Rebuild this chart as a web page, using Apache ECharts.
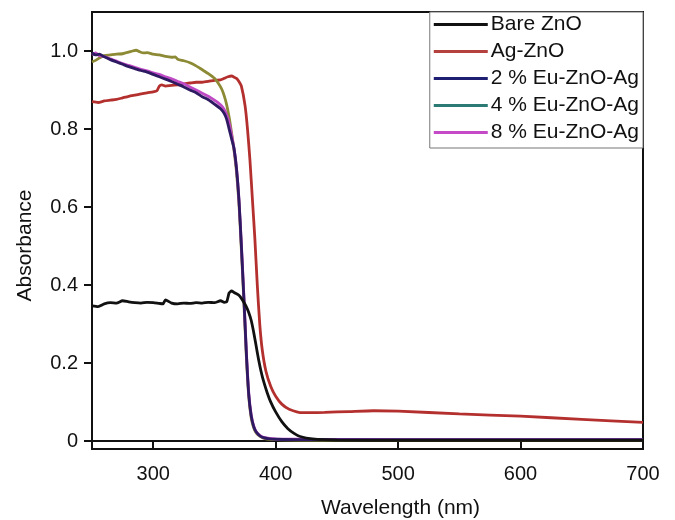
<!DOCTYPE html>
<html>
<head>
<meta charset="utf-8">
<script src="https://cdn.jsdelivr.net/npm/echarts@6/dist/echarts.min.js"></script>
<style>
html,body{margin:0;padding:0;background:#fff;}
#chart{width:675px;height:520px;}
</style>
</head>
<body>
<div id="chart"></div>
<script>
// ---- data ----
const seriesNames = ['Bare ZnO', 'Ag-ZnO', '2 % Eu-ZnO-Ag', '4 % Eu-ZnO-Ag', '8 % Eu-ZnO-Ag'];
const xTicks = [300, 400, 500, 600, 700];
const yTicks = [0, 0.2, 0.4, 0.6, 0.8, 1.0];

const bareWl = [250,255,260,265,270,275,280,285,290,295,300,305,308,310,315,320,325,330,335,340,345,350,355,358,360,362,364,366,368,370,372,374,376,378,380,382,384,386,388,390,393,396,400,405,410,415,420,430,450,500,550,600,650,700];
const bareAbs = [0.347,0.345,0.352,0.355,0.354,0.360,0.357,0.355,0.354,0.356,0.355,0.353,0.352,0.362,0.354,0.352,0.354,0.353,0.355,0.354,0.356,0.355,0.360,0.356,0.357,0.380,0.385,0.381,0.378,0.374,0.366,0.356,0.345,0.330,0.310,0.280,0.245,0.210,0.180,0.155,0.125,0.100,0.075,0.050,0.032,0.020,0.012,0.006,0.003,0.002,0.002,0.002,0.002,0.002];

const agWl = [250,255,260,265,270,275,280,285,290,295,300,303,305,307,310,315,320,325,330,335,340,345,350,355,358,361,364,366,368,370,372,375,377,379,381,383,385,387,389,392,396,400,405,411,422,440,460,480,500,550,600,650,700];
const agAbs = [0.870,0.868,0.872,0.874,0.876,0.880,0.884,0.887,0.890,0.893,0.895,0.898,0.910,0.913,0.910,0.912,0.913,0.916,0.918,0.920,0.920,0.922,0.925,0.926,0.930,0.934,0.936,0.933,0.930,0.922,0.910,0.860,0.800,0.720,0.620,0.520,0.400,0.300,0.235,0.180,0.140,0.115,0.095,0.082,0.073,0.074,0.076,0.078,0.077,0.070,0.064,0.056,0.048];

const eu2Wl = [250,253,256,260,265,270,275,280,285,290,295,300,305,310,315,320,325,330,335,340,345,350,355,358,360,362,364,366,368,370,372,374,376,378,380,382,384,387,390,395,400,420,500,700];
const eu2Abs = [0.995,0.990,0.992,0.985,0.978,0.972,0.966,0.960,0.955,0.950,0.946,0.940,0.934,0.928,0.922,0.915,0.908,0.900,0.893,0.883,0.875,0.864,0.852,0.840,0.825,0.800,0.775,0.750,0.700,0.620,0.500,0.370,0.230,0.120,0.065,0.038,0.024,0.014,0.009,0.006,0.005,0.004,0.004,0.004];

const eu4Wl = [250,253,256,260,265,270,275,280,283,286,289,292,295,300,305,310,315,318,320,325,330,335,340,345,350,353,356,358,360,362,364,366,368,370,372,374,376,378,380,382,384,387,390,395,400,420,500,700];
const eu4Abs = [0.972,0.976,0.982,0.988,0.990,0.992,0.993,0.997,1.000,1.002,0.998,0.995,0.996,0.992,0.990,0.986,0.984,0.985,0.979,0.975,0.970,0.962,0.952,0.942,0.930,0.918,0.902,0.885,0.862,0.830,0.790,0.745,0.690,0.610,0.490,0.360,0.220,0.115,0.060,0.035,0.022,0.013,0.008,0.005,0.004,0.003,0.003,0.003];

const eu8Wl = [250,253,256,260,265,270,275,280,285,290,295,300,305,310,315,320,325,330,335,340,345,350,355,358,360,362,364,366,368,370,372,374,376,378,380,382,384,387,390,395,400,420,500,700];
const eu8Abs = [0.990,0.995,0.988,0.986,0.980,0.974,0.968,0.963,0.958,0.953,0.949,0.944,0.940,0.934,0.929,0.922,0.916,0.908,0.900,0.892,0.884,0.874,0.862,0.850,0.836,0.815,0.785,0.750,0.700,0.620,0.505,0.375,0.235,0.125,0.068,0.040,0.025,0.015,0.010,0.007,0.006,0.005,0.004,0.004];

// ---- build ----
function pairs(xs, ys){ return xs.map((x,i)=>[x, ys[i]]); }
const lineColors = ['#111111', '#b3302e', '#2e1a62', '#8c8a35', '#c04ac6'];
const legendColors = ['#111111', '#b5413f', '#1e1f72', '#2b7b74', '#c44ac8'];
const zOrder = [7, 3, 6, 4, 5];
const allData = [pairs(bareWl,bareAbs), pairs(agWl,agAbs), pairs(eu2Wl,eu2Abs), pairs(eu4Wl,eu4Abs), pairs(eu8Wl,eu8Abs)];

const font = 'Liberation Sans, Arial, Helvetica, sans-serif';
const chart = echarts.init(document.getElementById('chart'), null, {renderer:'canvas'});
chart.setOption({
  animation: false,
  backgroundColor: '#ffffff',
  grid: {left: 92, right: 32, top: 12, bottom: 71, show: true, borderColor: '#111', borderWidth: 2,
         backgroundColor: 'transparent', containLabel: false, outerBoundsMode: 'none'},
  legend: {
    orient: 'vertical', right: 32, top: 12,
    backgroundColor: '#fff', borderColor: '#777', borderWidth: 1,
    padding: [2, 4, 5, 4], itemGap: 6,
    icon: 'rect', itemWidth: 54, itemHeight: 3,
    textStyle: {fontFamily: font, fontSize: 21, color: '#111', lineHeight: 21, padding: [0,0,0,-2]},
    data: seriesNames.map((n,i)=>({name:n, itemStyle:{color: legendColors[i]}}))
  },
  xAxis: {
    type: 'value', min: 250, max: 700,
    name: 'Wavelength (nm)', nameLocation: 'middle', nameGap: 49,
    nameTextStyle: {fontFamily: font, fontSize: 21, color: '#111', padding: [0,0,0,66]},
    axisLine: {show: true, lineStyle: {color: '#111', width: 2}},
    axisTick: {show: true, inside: false, length: 7, lineStyle: {color: '#111', width: 2}, customValues: xTicks},
    axisLabel: {fontFamily: font, fontSize: 20, color: '#111', margin: 15, customValues: xTicks},
    splitLine: {show: false}
  },
  yAxis: {
    type: 'value', min: -0.02, max: 1.1,
    name: 'Absorbance', nameLocation: 'middle', nameGap: 56,
    nameTextStyle: {fontFamily: font, fontSize: 21, color: '#111', padding: [0,30,0,0]},
    axisLine: {show: true, lineStyle: {color: '#111', width: 2}},
    axisTick: {show: true, inside: false, length: 8, lineStyle: {color: '#111', width: 2}, customValues: yTicks},
    axisLabel: {fontFamily: font, fontSize: 20, color: '#111', margin: 14, customValues: yTicks,
      formatter: v => (Math.abs(v) < 1e-9 ? '0' : v.toFixed(1))},
    splitLine: {show: false}
  },
  series: seriesNames.map((n,i)=>({
    name: n, type: 'line', data: allData[i], showSymbol: false, symbol: 'none',
    smooth: 0.2, clip: true,
    lineStyle: {color: lineColors[i], width: 2.8},
    itemStyle: {color: lineColors[i]},
    z: zOrder[i]
  }))
});
</script>
</body>
</html>
